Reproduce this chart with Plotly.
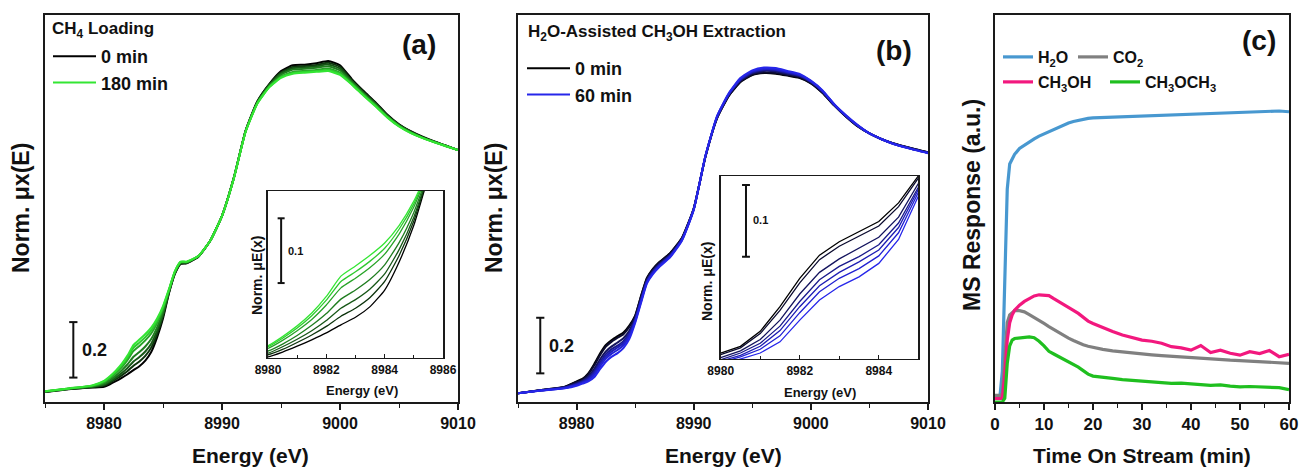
import plotly.graph_objects as go

W, H = 1301, 470

# ---------------- data: panel (a) CH4 loading XANES ----------------
E_A = [8975, 8977, 8979, 8980, 8980.5, 8981, 8981.5, 8982, 8982.5, 8983, 8983.5, 8984, 8984.5,
       8985, 8985.5, 8986, 8986.5, 8987, 8988, 8989, 8990, 8991, 8992, 8993, 8994, 8995, 8996,
       8997, 8998, 8999, 9000, 9001, 9002, 9003, 9004, 9005, 9006, 9007, 9008, 9009, 9010]
A_TIMES = [0, 30, 60, 90, 120, 150, 180]
A_0 = [0.000, 0.010, 0.016, 0.019, 0.028, 0.039, 0.051, 0.064, 0.079, 0.093, 0.113, 0.144, 0.197,
       0.265, 0.355, 0.425, 0.462, 0.464, 0.488, 0.545, 0.635, 0.772, 0.942, 1.048, 1.110, 1.157, 1.178,
       1.180, 1.185, 1.193, 1.178, 1.128, 1.085, 1.045, 1.000, 0.965, 0.940, 0.920, 0.903, 0.888, 0.872]
A_30 = [0.001, 0.011, 0.017, 0.023, 0.033, 0.046, 0.060, 0.076, 0.095, 0.110, 0.130, 0.160, 0.209,
        0.273, 0.358, 0.427, 0.463, 0.465, 0.488, 0.545, 0.635, 0.772, 0.941, 1.047, 1.108, 1.152, 1.172,
        1.175, 1.179, 1.187, 1.172, 1.124, 1.082, 1.042, 0.998, 0.964, 0.939, 0.919, 0.902, 0.888, 0.872]
A_60 = [0.001, 0.011, 0.019, 0.026, 0.038, 0.052, 0.068, 0.087, 0.110, 0.126, 0.146, 0.174, 0.220,
        0.280, 0.360, 0.428, 0.465, 0.466, 0.489, 0.545, 0.635, 0.771, 0.941, 1.045, 1.106, 1.149, 1.167,
        1.170, 1.174, 1.181, 1.166, 1.121, 1.079, 1.040, 0.997, 0.962, 0.938, 0.918, 0.902, 0.887, 0.872]
A_90 = [0.002, 0.012, 0.020, 0.030, 0.043, 0.059, 0.078, 0.100, 0.127, 0.144, 0.164, 0.191, 0.233,
        0.289, 0.363, 0.430, 0.466, 0.467, 0.489, 0.545, 0.635, 0.771, 0.940, 1.044, 1.104, 1.144, 1.162,
        1.165, 1.169, 1.174, 1.159, 1.117, 1.076, 1.037, 0.995, 0.961, 0.936, 0.917, 0.901, 0.887, 0.872]
A_120 = [0.002, 0.012, 0.022, 0.035, 0.050, 0.068, 0.089, 0.116, 0.148, 0.166, 0.186, 0.211, 0.249,
         0.299, 0.366, 0.432, 0.468, 0.469, 0.490, 0.545, 0.635, 0.770, 0.939, 1.042, 1.101, 1.138, 1.154,
         1.158, 1.161, 1.166, 1.151, 1.113, 1.072, 1.034, 0.992, 0.959, 0.935, 0.916, 0.901, 0.886, 0.872]
A_150 = [0.003, 0.013, 0.023, 0.038, 0.054, 0.073, 0.096, 0.125, 0.160, 0.178, 0.198, 0.222, 0.258,
         0.305, 0.368, 0.434, 0.469, 0.469, 0.490, 0.545, 0.635, 0.770, 0.938, 1.041, 1.099, 1.135, 1.150,
         1.154, 1.157, 1.161, 1.147, 1.110, 1.070, 1.032, 0.991, 0.958, 0.934, 0.916, 0.900, 0.886, 0.872]
A_180 = [0.003, 0.013, 0.024, 0.040, 0.057, 0.077, 0.101, 0.132, 0.170, 0.189, 0.209, 0.232, 0.265,
         0.310, 0.370, 0.435, 0.470, 0.470, 0.490, 0.545, 0.635, 0.770, 0.938, 1.040, 1.098, 1.132, 1.147,
         1.151, 1.154, 1.157, 1.143, 1.108, 1.068, 1.030, 0.990, 0.957, 0.933, 0.915, 0.900, 0.886, 0.872]
A_CURVES = [A_0, A_30, A_60, A_90, A_120, A_150, A_180]
A_COLORS = ["#000000", "#0d330d", "#175717", "#1f7d1f", "#27a327", "#2ec92e", "#33e633"]

# ---------------- data: panel (b) H2O-assisted extraction XANES ----------------
E_B = list(E_A)
B_TIMES = [0, 10, 20, 30, 40, 50, 60]
B_0 = [0.000, 0.012, 0.024, 0.043, 0.052, 0.072, 0.105, 0.143, 0.174, 0.192, 0.206, 0.219, 0.244,
       0.280, 0.350, 0.415, 0.447, 0.470, 0.505, 0.560, 0.665, 0.850, 0.990, 1.070, 1.120, 1.145, 1.152,
       1.150, 1.143, 1.135, 1.115, 1.080, 1.035, 0.995, 0.960, 0.935, 0.915, 0.900, 0.888, 0.877, 0.867]
B_10 = [0.000, 0.012, 0.023, 0.041, 0.050, 0.069, 0.100, 0.137, 0.168, 0.186, 0.200, 0.213, 0.239,
        0.277, 0.348, 0.413, 0.445, 0.468, 0.504, 0.559, 0.665, 0.851, 0.991, 1.071, 1.122, 1.147, 1.154,
        1.152, 1.145, 1.137, 1.116, 1.081, 1.036, 0.996, 0.961, 0.935, 0.915, 0.900, 0.888, 0.877, 0.867]
B_20 = [0.000, 0.011, 0.022, 0.037, 0.046, 0.061, 0.087, 0.122, 0.151, 0.169, 0.183, 0.198, 0.225,
        0.270, 0.341, 0.407, 0.440, 0.463, 0.499, 0.556, 0.663, 0.852, 0.993, 1.074, 1.126, 1.151, 1.160,
        1.158, 1.149, 1.141, 1.119, 1.084, 1.037, 0.997, 0.962, 0.935, 0.915, 0.899, 0.887, 0.876, 0.866]
B_30 = [0.000, 0.011, 0.021, 0.034, 0.043, 0.056, 0.079, 0.112, 0.141, 0.159, 0.172, 0.188, 0.217,
        0.265, 0.336, 0.404, 0.437, 0.460, 0.497, 0.555, 0.662, 0.853, 0.994, 1.076, 1.128, 1.154, 1.163,
        1.161, 1.152, 1.143, 1.121, 1.086, 1.038, 0.998, 0.963, 0.935, 0.915, 0.899, 0.886, 0.875, 0.865]
B_40 = [0.000, 0.011, 0.020, 0.032, 0.040, 0.052, 0.073, 0.105, 0.133, 0.151, 0.165, 0.181, 0.211,
        0.262, 0.333, 0.401, 0.434, 0.458, 0.495, 0.553, 0.662, 0.853, 0.995, 1.077, 1.130, 1.157, 1.166,
        1.164, 1.155, 1.145, 1.122, 1.087, 1.038, 0.998, 0.963, 0.935, 0.915, 0.899, 0.886, 0.875, 0.865]
B_50 = [0.000, 0.010, 0.019, 0.030, 0.038, 0.048, 0.066, 0.097, 0.125, 0.143, 0.156, 0.173, 0.204,
        0.258, 0.330, 0.399, 0.431, 0.455, 0.493, 0.552, 0.661, 0.854, 0.997, 1.078, 1.132, 1.159, 1.168,
        1.166, 1.157, 1.147, 1.123, 1.088, 1.039, 0.999, 0.964, 0.935, 0.915, 0.898, 0.886, 0.875, 0.865]
B_60 = [0.000, 0.010, 0.018, 0.027, 0.035, 0.043, 0.058, 0.087, 0.114, 0.132, 0.145, 0.163, 0.195,
        0.253, 0.325, 0.395, 0.428, 0.452, 0.490, 0.550, 0.660, 0.855, 0.998, 1.080, 1.135, 1.162, 1.172,
        1.170, 1.160, 1.150, 1.125, 1.090, 1.040, 1.000, 0.965, 0.935, 0.915, 0.898, 0.885, 0.874, 0.864]
B_CURVES = [B_0, B_10, B_20, B_30, B_40, B_50, B_60]
B_COLORS = ["#000000", "#0c0c30", "#14145e", "#1a1a8c", "#1e1eb4", "#2222d2", "#2626ea"]

# ---------------- data: panel (c) MS response ----------------
T_MIN = [0, 1, 1.5, 2, 2.5, 3, 3.5, 4, 5, 6, 7, 8, 9, 10, 11, 12, 13, 14, 15, 16, 17, 18, 19, 20,
         22, 24, 26, 28, 30, 32, 34, 36, 38, 40, 42, 44, 46, 48, 50, 52, 54, 56, 58, 60]
MS_H2O = [0.013, 0.013, 0.080, 0.300, 0.550, 0.615, 0.630, 0.640, 0.655, 0.664, 0.672, 0.680, 0.687,
          0.693, 0.698, 0.705, 0.711, 0.716, 0.721, 0.725, 0.728, 0.731, 0.733, 0.734, 0.735, 0.737,
          0.736, 0.739, 0.738, 0.740, 0.741, 0.742, 0.743, 0.744, 0.744, 0.746, 0.746, 0.748, 0.749,
          0.749, 0.751, 0.751, 0.752, 0.750]
MS_CO2 = [0.017, 0.017, 0.020, 0.120, 0.205, 0.225, 0.232, 0.236, 0.236, 0.233, 0.226, 0.219, 0.211,
          0.203, 0.195, 0.187, 0.180, 0.172, 0.165, 0.159, 0.153, 0.148, 0.144, 0.141, 0.136, 0.132,
          0.129, 0.127, 0.124, 0.122, 0.120, 0.118, 0.116, 0.114, 0.113, 0.111, 0.110, 0.108, 0.107,
          0.106, 0.104, 0.103, 0.102, 0.100]
MS_CH3OH = [0.009, 0.009, 0.009, 0.070, 0.160, 0.205, 0.225, 0.237, 0.250, 0.260, 0.268, 0.274, 0.277,
            0.276, 0.275, 0.267, 0.260, 0.253, 0.245, 0.237, 0.229, 0.218, 0.209, 0.203, 0.192, 0.182,
            0.173, 0.167, 0.160, 0.157, 0.152, 0.143, 0.140, 0.134, 0.146, 0.128, 0.134, 0.126, 0.121,
            0.130, 0.125, 0.133, 0.117, 0.123]
MS_DME = [0.000, 0.000, 0.000, 0.010, 0.100, 0.145, 0.160, 0.164, 0.166, 0.168, 0.168, 0.166, 0.157,
          0.145, 0.131, 0.124, 0.117, 0.111, 0.104, 0.098, 0.090, 0.081, 0.072, 0.067, 0.063, 0.061,
          0.058, 0.056, 0.054, 0.054, 0.052, 0.048, 0.049, 0.048, 0.045, 0.043, 0.044, 0.041, 0.039,
          0.040, 0.039, 0.039, 0.037, 0.032]
MS_NAMES = ["H<sub>2</sub>O", "CO<sub>2</sub>", "CH<sub>3</sub>OH", "CH<sub>3</sub>OCH<sub>3</sub>"]
MS_SERIES = [MS_H2O, MS_CO2, MS_CH3OH, MS_DME]
MS_COLORS = ["#4898d0", "#808080", "#f2187e", "#1fbf1f"]
MS_LEGENDS = ["legend3", "legend3", "legend4", "legend4"]
MS_ENTRY_W = [30, 40, 62, 90]

for arr in A_CURVES + B_CURVES:
    assert len(arr) == len(E_A), len(arr)
for arr in MS_SERIES:
    assert len(arr) == len(T_MIN), len(arr)


def px(x):
    return x / W


def py(y):
    return 1 - y / H


FONT = "Liberation Sans, Arial, sans-serif"
fig = go.Figure()

# panel (a) main + inset
for i, (ys, col) in enumerate(zip(A_CURVES, A_COLORS)):
    show = i in (0, len(A_CURVES) - 1)
    fig.add_trace(go.Scatter(x=E_A, y=ys, mode="lines", name=f"{A_TIMES[i]} min",
                             line=dict(color=col, width=2, shape="spline", smoothing=0.5),
                             showlegend=show, legend="legend", xaxis="x", yaxis="y", hoverinfo="skip"))
for i, (ys, col) in enumerate(zip(A_CURVES, A_COLORS)):
    fig.add_trace(go.Scatter(x=E_A, y=ys, mode="lines", name=f"{A_TIMES[i]} min",
                             line=dict(color=col, width=1.3, shape="spline", smoothing=0.5),
                             showlegend=False, xaxis="x4", yaxis="y4", hoverinfo="skip"))

# panel (b) main + inset
for i, (ys, col) in enumerate(zip(B_CURVES, B_COLORS)):
    show = i in (0, len(B_CURVES) - 1)
    fig.add_trace(go.Scatter(x=E_B, y=ys, mode="lines", name=f"{B_TIMES[i]} min",
                             line=dict(color=col, width=2, shape="spline", smoothing=0.5),
                             showlegend=show, legend="legend2", xaxis="x2", yaxis="y2", hoverinfo="skip"))
for i, (ys, col) in enumerate(zip(B_CURVES, B_COLORS)):
    fig.add_trace(go.Scatter(x=E_B, y=ys, mode="lines", name=f"{B_TIMES[i]} min",
                             line=dict(color=col, width=1.3),
                             showlegend=False, xaxis="x5", yaxis="y5", hoverinfo="skip"))

# panel (c)
for name, ys, col, lg, ew in zip(MS_NAMES, MS_SERIES, MS_COLORS, MS_LEGENDS, MS_ENTRY_W):
    fig.add_trace(go.Scatter(x=T_MIN, y=ys, mode="lines", name=name,
                             line=dict(color=col, width=3.2), legend=lg, legendwidth=ew,
                             xaxis="x3", yaxis="y3", hoverinfo="skip"))

LINE = dict(showline=True, mirror=True, linecolor="#1a1a1a", linewidth=1.6,
            showgrid=False, zeroline=False)
TICKF = dict(family=FONT, size=16, color="#111", weight="bold")
INSET_TICKF = dict(family=FONT, size=12, color="#111", weight="bold")
YD = [py(402), py(15)]


def main_x(domain, anchor):
    return dict(domain=domain, anchor=anchor, range=[8975, 9010], tick0=8980, dtick=10,
                ticks="outside", ticklen=6, tickwidth=1.5, tickcolor="#1a1a1a",
                minor=dict(tick0=8975, dtick=5, ticks="outside", ticklen=4, tickwidth=1.3,
                           tickcolor="#1a1a1a"),
                tickfont=TICKF, automargin=False, **LINE)


def bare_y(domain, anchor, rng):
    return dict(domain=domain, anchor=anchor, range=rng, showticklabels=False, ticks="",
                automargin=False, **LINE)


def inset_x(domain, anchor, rng):
    return dict(domain=domain, anchor=anchor, range=rng, tick0=8980, dtick=2,
                ticks="inside", ticklen=4, tickwidth=1.2, tickcolor="#1a1a1a",
                minor=dict(tick0=8980, dtick=1, ticks="inside", ticklen=3, tickwidth=1,
                           tickcolor="#1a1a1a"),
                tickfont=INSET_TICKF, linecolor="#1a1a1a", linewidth=1.3, showline=True,
                mirror=True, showgrid=False, zeroline=False, automargin=False)


LEG = dict(bgcolor="rgba(0,0,0,0)", borderwidth=0, xanchor="left", yanchor="top",
           font=dict(family=FONT, size=18, color="#111", weight="bold"), tracegroupgap=0,
           itemwidth=43)
LEGC = dict(bgcolor="rgba(0,0,0,0)", borderwidth=0, xanchor="left", yanchor="top",
            orientation="h", font=dict(family=FONT, size=16, color="#111", weight="bold"),
            entrywidthmode="pixels")

fig.update_layout(
    width=W, height=H, autosize=False,
    margin=dict(l=0, r=0, t=0, b=0, pad=0, autoexpand=False),
    paper_bgcolor="white", plot_bgcolor="white",
    font=dict(family=FONT, color="#111"),
    xaxis=main_x([px(45), px(458)], "y"),
    yaxis=bare_y(YD, "x", [-0.036, 1.359]),
    xaxis2=main_x([px(518), px(928)], "y2"),
    yaxis2=bare_y(YD, "x2", [-0.031, 1.361]),
    xaxis3=dict(domain=[px(995), px(1289)], anchor="y3", range=[0, 60], tick0=0, dtick=10,
                ticks="outside", ticklen=6, tickwidth=1.5, tickcolor="#1a1a1a",
                minor=dict(tick0=0, dtick=5, ticks="outside", ticklen=4, tickwidth=1.3,
                           tickcolor="#1a1a1a"),
                tickfont=dict(family=FONT, size=17, color="#111", weight="bold"),
                automargin=False, **LINE),
    yaxis3=bare_y(YD, "x3", [0, 1]),
    xaxis4=inset_x([px(268), px(443)], "y4", [8980, 8986]),
    yaxis4=bare_y([py(358), py(191)], "x4", [0.017, 0.329]),
    xaxis5=inset_x([px(720.7), px(918.3)], "y5", [8980, 8985]),
    yaxis5=bare_y([py(359), py(176)], "x5", [0.035, 0.280]),
    legend=dict(x=px(48), y=py(38), **LEG),
    legend2=dict(x=px(522), y=py(50), **LEG),
    legend3=dict(x=px(998), y=py(40), **LEGC),
    legend4=dict(x=px(998), y=py(65), **LEGC),
    showlegend=True,
)

# scale bars (drawn in the axes' own data units)
BAR = dict(color="#111", width=2)
shapes = []


def scale_bar(xref, yref, x, y0, y1, cap):
    shapes.append(dict(type="line", xref=xref, yref=yref, x0=x, x1=x, y0=y0, y1=y1, line=BAR))
    for yy in (y0, y1):
        shapes.append(dict(type="line", xref=xref, yref=yref, x0=x - cap, x1=x + cap,
                           y0=yy, y1=yy, line=BAR))


scale_bar("x", "y", 8977.4, 0.052, 0.252, 0.35)
scale_bar("x2", "y2", 8976.9, 0.072, 0.272, 0.35)
scale_bar("x4", "y4", 8980.45, 0.157, 0.278, 0.12)
scale_bar("x5", "y5", 8980.64, 0.172, 0.268, 0.10)
fig.update_layout(shapes=shapes)

ann = []


def text(x, y, s, size, xanchor="center", yanchor="middle", angle=0, xref="paper", yref="paper"):
    ann.append(dict(x=x, y=y, xref=xref, yref=yref, text=s, showarrow=False,
                    xanchor=xanchor, yanchor=yanchor, textangle=angle,
                    font=dict(family=FONT, size=size, color="#111", weight="bold")))


# scale bar labels
text(8978.0, 0.152, "0.2", 18, xanchor="left", xref="x", yref="y")
text(8977.5, 0.172, "0.2", 18, xanchor="left", xref="x2", yref="y2")
text(8980.6, 0.216, "0.1", 11, xanchor="left", xref="x4", yref="y4")
text(8980.76, 0.221, "0.1", 11, xanchor="left", xref="x5", yref="y5")

# panel tags and headings
text(px(438), py(45), "(a)", 28, xanchor="right")
text(px(914), py(50), "(b)", 28, xanchor="right")
text(px(1278), py(40), "(c)", 28, xanchor="right")
text(px(50), py(30), "CH<sub>4</sub> Loading", 17, xanchor="left")
text(px(526), py(33), "H<sub>2</sub>O-Assisted CH<sub>3</sub>OH Extraction", 17, xanchor="left")

# axis titles
text(px(251), py(455), "Energy (eV)", 21)
text(px(723), py(455), "Energy (eV)", 21)
text(px(1142), py(455), "Time On Stream (min)", 21)
text(px(21), py(208), "Norm. μx(E)", 23, angle=-90)
text(px(494), py(208), "Norm. μx(E)", 23, angle=-90)
text(px(972), py(205), "MS Response (a.u.)", 23, angle=-90)
text(px(362), py(390), "Energy (eV)", 13)
text(px(820), py(392), "Energy (eV)", 13)
text(px(257), py(276), "Norm. μE(x)", 14, angle=-90)
text(px(707), py(282), "Norm. μE(x)", 14, angle=-90)
fig.update_layout(annotations=ann)

fig.write_html("out.html", config={"displayModeBar": False, "responsive": False},
               post_script="document.body.style.margin='0px';")
